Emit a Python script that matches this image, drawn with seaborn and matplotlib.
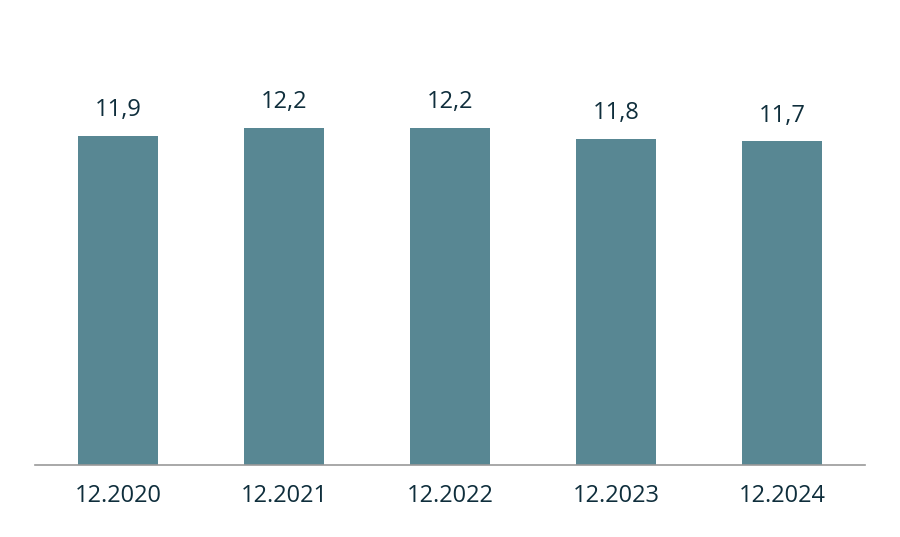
import matplotlib
matplotlib.use('Agg')
import matplotlib.pyplot as plt
import seaborn as sns

periods = ['12.2020', '12.2021', '12.2022', '12.2023', '12.2024']
values = [11.9, 12.2, 12.2, 11.8, 11.7]

sns.set_theme(style='white')
plt.rcParams['font.family'] = ['Open Sans', 'DejaVu Sans']

bar_color = '#588793'
text_color = '#0f2e3c'

fig = plt.figure(figsize=(9, 5.37), dpi=100)
ax = fig.add_axes([35 / 900, 72 / 537, 830 / 900, 465 / 537])

sns.barplot(x=periods, y=values, color=bar_color, width=0.48, saturation=1,
            linewidth=0, ax=ax)

for i, v in enumerate(values):
    ax.annotate(f'{v:.1f}'.replace('.', ','), (i, v), xytext=(0, 10),
                textcoords='offset points', ha='center', va='bottom',
                fontsize=17, color=text_color)

ax.set_xlim(-0.5, 4.5)
ax.set_ylim(0, 465 / 27.65)
ax.set_yticks([])
ax.set_xlabel('')
ax.set_ylabel('')
for s in ['top', 'right', 'left']:
    ax.spines[s].set_visible(False)
ax.spines['bottom'].set_color('#999999')
ax.spines['bottom'].set_linewidth(1.2)
ax.tick_params(axis='x', length=0, pad=14, labelsize=17, labelcolor=text_color)

fig.savefig('out.png', dpi=100)
